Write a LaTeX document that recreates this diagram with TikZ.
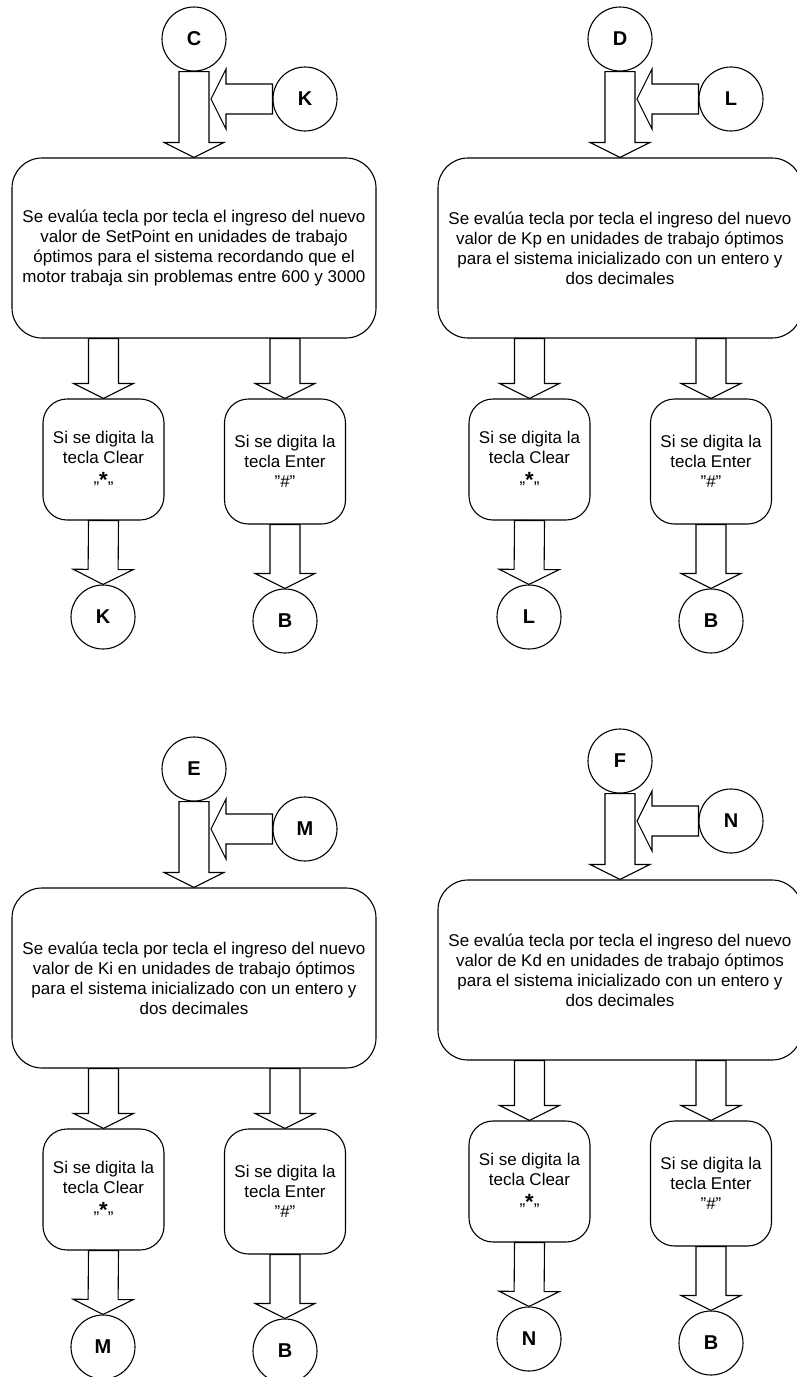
\documentclass[tikz,border=0pt]{standalone}
\usepackage{fontspec}
\setmainfont{Liberation Sans}
\usetikzlibrary{calc}

\newcommand{\fatarrow}[2]{%
  \draw[flecha] let \p1=(#1), \p2=(#2),
      \n1={atan2(\y2-\y1,\x2-\x1)}, \n2={veclen(\x2-\x1,\y2-\y1)} in
    [shift={(\p1)}, rotate=\n1]
    (0pt,-15pt) -- ({\n2*1pt-15pt},-15pt) -- ({\n2*1pt-15pt},-30pt) -- ({\n2*1pt},0pt)
    -- ({\n2*1pt-15pt},30pt) -- ({\n2*1pt-15pt},15pt) -- (0pt,15pt) -- cycle;}
\newcommand{\asterisco}{\raisebox{-4pt}{\fontsize{22}{20}\selectfont\bfseries *}}
\newcommand{\comillas}{\symbol{34}}

\begin{document}
\begin{tikzpicture}[x=1pt,y=-1pt,
  conector/.style={circle,draw,line width=1.1pt,minimum size=64pt,inner sep=0pt,
    font=\fontsize{20}{20}\selectfont\bfseries},
  proceso/.style={draw,line width=1.1pt,rounded corners=30pt,minimum width=364pt,
    minimum height=180pt,align=center,inner sep=0pt,font=\fontsize{17}{20}\selectfont},
  opcion/.style={draw,line width=1.1pt,rounded corners=24pt,minimum width=121pt,
    minimum height=121pt,align=center,inner sep=0pt,font=\fontsize{17}{20}\selectfont},
  flecha/.style={draw,fill=white,line width=1.1pt,line join=miter}]

\useasboundingbox (0,0) rectangle (796,1377);

\node[conector] (c) at (194,39) {C};
\node[conector] (k1) at (305,99) {K};
\node[proceso] (setpoint) at (194,248) {Se evalúa tecla por tecla el ingreso del nuevo\\valor de SetPoint en unidades de trabajo\\óptimos para el sistema recordando que el\\motor trabaja sin problemas entre 600 y 3000};
\node[opcion] (clear1) at (103.5,459.5) {Si se digita la\\tecla Clear\\„\asterisco„};
\node[opcion,minimum height=125pt] (enter1) at (285,461.5) {Si se digita la\\tecla Enter\\\comillas\#\comillas};
\node[conector] (k2) at (103,617) {K};
\node[conector] (b1) at (285,621) {B};
\coordinate (kin) at ($(c.south |- k1.west)+(17,0)$);

\fatarrow{c.south}{setpoint.north}
\fatarrow{k1.west}{kin}
\fatarrow{setpoint.south -| clear1.north}{clear1.north}
\fatarrow{setpoint.south -| enter1.north}{enter1.north}
\fatarrow{clear1.south}{k2.north}
\fatarrow{enter1.south}{b1.north}

\node[conector] (d) at (620,39) {D};
\node[conector] (l1) at (731,99) {L};
\node[proceso] (kp) at (620,248) {Se evalúa tecla por tecla el ingreso del nuevo\\valor de Kp en unidades de trabajo óptimos\\para el sistema inicializado con un entero y\\dos decimales};
\node[opcion] (clear2) at (529.5,459.5) {Si se digita la\\tecla Clear\\„\asterisco„};
\node[opcion,minimum height=125pt] (enter2) at (711,461.5) {Si se digita la\\tecla Enter\\\comillas\#\comillas};
\node[conector] (l2) at (529,617) {L};
\node[conector] (b2) at (711,621) {B};
\coordinate (lin) at ($(d.south |- l1.west)+(17,0)$);

\fatarrow{d.south}{kp.north}
\fatarrow{l1.west}{lin}
\fatarrow{kp.south -| clear2.north}{clear2.north}
\fatarrow{kp.south -| enter2.north}{enter2.north}
\fatarrow{clear2.south}{l2.north}
\fatarrow{enter2.south}{b2.north}

\node[conector] (e) at (194,769) {E};
\node[conector] (m1) at (305,829) {M};
\node[proceso] (ki) at (194,978) {Se evalúa tecla por tecla el ingreso del nuevo\\valor de Ki en unidades de trabajo óptimos\\para el sistema inicializado con un entero y\\dos decimales};
\node[opcion] (clear3) at (103.5,1189.5) {Si se digita la\\tecla Clear\\„\asterisco„};
\node[opcion,minimum height=125pt] (enter3) at (285,1191.5) {Si se digita la\\tecla Enter\\\comillas\#\comillas};
\node[conector] (m2) at (103,1347) {M};
\node[conector] (b3) at (285,1351) {B};
\coordinate (min) at ($(e.south |- m1.west)+(17,0)$);

\fatarrow{e.south}{ki.north}
\fatarrow{m1.west}{min}
\fatarrow{ki.south -| clear3.north}{clear3.north}
\fatarrow{ki.south -| enter3.north}{enter3.north}
\fatarrow{clear3.south}{m2.north}
\fatarrow{enter3.south}{b3.north}

\node[conector] (f) at (620,761) {F};
\node[conector] (n1) at (731,821) {N};
\node[proceso] (kd) at (620,970) {Se evalúa tecla por tecla el ingreso del nuevo\\valor de Kd en unidades de trabajo óptimos\\para el sistema inicializado con un entero y\\dos decimales};
\node[opcion] (clear4) at (529.5,1181.5) {Si se digita la\\tecla Clear\\„\asterisco„};
\node[opcion,minimum height=125pt] (enter4) at (711,1183.5) {Si se digita la\\tecla Enter\\\comillas\#\comillas};
\node[conector] (n2) at (529,1339) {N};
\node[conector] (b4) at (711,1343) {B};
\coordinate (nin) at ($(f.south |- n1.west)+(17,0)$);

\fatarrow{f.south}{kd.north}
\fatarrow{n1.west}{nin}
\fatarrow{kd.south -| clear4.north}{clear4.north}
\fatarrow{kd.south -| enter4.north}{enter4.north}
\fatarrow{clear4.south}{n2.north}
\fatarrow{enter4.south}{b4.north}

\end{tikzpicture}
\end{document}
